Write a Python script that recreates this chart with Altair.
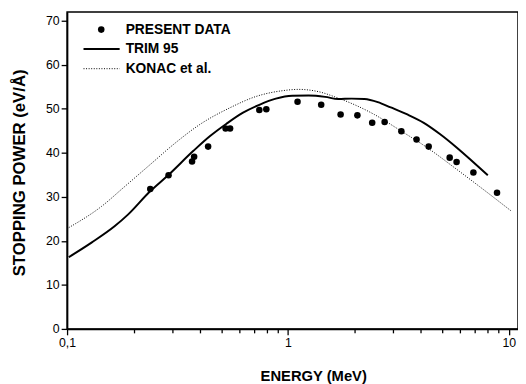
import altair as alt
import pandas as pd

# ---- data ----
present_E = [0.238, 0.288, 0.368, 0.376, 0.435, 0.522, 0.547, 0.742, 0.798, 1.105,
             1.414, 1.731, 2.062, 2.406, 2.739, 3.261, 3.821, 4.335, 5.397, 5.80,
             6.91, 8.84]
present_S = [31.8, 34.9, 38.0, 39.1, 41.4, 45.5, 45.5, 49.7, 49.9, 51.6,
             50.9, 48.7, 48.5, 46.8, 47.0, 44.9, 43.0, 41.4, 38.9, 37.9,
             35.5, 30.9]

trim_E = [0.1018, 0.129, 0.164, 0.1886, 0.237, 0.2866, 0.3743, 0.444, 0.527, 0.626,
          0.742, 0.881, 1.046, 1.241, 1.473, 1.69, 1.94, 2.22, 2.55, 2.92,
          3.47, 4.12, 4.89, 5.80, 6.89, 8.03]
trim_S = [16.3, 19.6, 23.3, 25.95, 31.2, 34.9, 40.5, 43.8, 46.6, 49.1,
          50.9, 52.3, 52.95, 53.0, 52.7, 52.2, 52.3, 52.2, 51.5, 50.3,
          48.7, 46.8, 44.2, 41.2, 37.9, 34.9]

konac_E = [0.1018, 0.143, 0.182, 0.240, 0.305, 0.401, 0.545, 0.718, 0.944, 1.12,
           1.37, 1.69, 2.005, 2.46, 3.24, 4.26, 5.61, 7.38, 10.3]
konac_S = [23.0, 27.8, 32.3, 37.5, 42.0, 46.5, 50.2, 52.8, 54.1, 54.4,
           53.9, 52.4, 50.9, 48.7, 45.0, 41.2, 36.8, 32.3, 26.7]

series_names = ["PRESENT DATA", "TRIM 95", "KONAC et al."]

x_ticks = [0.1, 0.2, 0.3, 0.4, 0.5, 0.6, 0.7, 0.8, 0.9,
           1, 2, 3, 4, 5, 6, 7, 8, 9, 10]
y_ticks = [0, 5, 10, 15, 20, 25, 30, 35, 40, 45, 50, 55, 60, 65, 70]

FONT = "Liberation Sans"

df_pts = pd.DataFrame({"E": present_E, "S": present_S})
df_trim = pd.DataFrame({"E": trim_E, "S": trim_S})
df_konac = pd.DataFrame({"E": konac_E, "S": konac_S})
one = pd.DataFrame({"k": [0]})

x_scale = alt.Scale(type="log", domain=[0.1, 11.0], nice=False)
y_scale = alt.Scale(domain=[0, 72], nice=False, zero=False)

x_axis = alt.Axis(
    values=x_ticks,
    labelExpr="datum.value == 0.1 ? '0,1' : (datum.value == 1 ? '1' : (datum.value == 10 ? '10' : ''))",
    tickSize={"condition": {"test": "datum.value == 0.1 || datum.value == 1 || datum.value == 10", "value": 6}, "value": 4},
    labelOverlap=False, labelFlush=False, grid=False,
    labelFontSize=12.5, labelPadding=2, labelColor="black", labelFont=FONT,
    domainColor="black", domainWidth=1.6, tickColor="black", tickWidth=1.3,
    title="ENERGY (MeV)", titleFont=FONT, titleFontSize=15, titleFontWeight="bold",
    titleColor="black", titleX=250, titleY=47, titleBaseline="middle",
)
y_axis = alt.Axis(
    values=y_ticks,
    labelExpr="datum.value % 10 == 0 ? datum.label : ''",
    tickSize={"condition": {"test": "datum.value % 10 == 0", "value": 6}, "value": 4},
    labelOverlap=False, labelFlush=False, grid=False,
    labelFontSize=12.5, labelPadding=2, labelColor="black", labelFont=FONT,
    domainColor="black", domainWidth=1.6, tickColor="black", tickWidth=1.3,
    title="STOPPING POWER (eV/Å)", titleFont=FONT, titleFontSize=17, titleFontWeight="bold",
    titleColor="black", titleX=-48.5, titleY=163, titleBaseline="middle", titleAngle=270,
)

konac = alt.Chart(df_konac).mark_line(
    color="black", strokeWidth=1, strokeDash=[1, 1.6], interpolate="monotone"
).encode(
    x=alt.X("E:Q", scale=x_scale, axis=x_axis),
    y=alt.Y("S:Q", scale=y_scale, axis=y_axis),
)
trim = alt.Chart(df_trim).mark_line(
    color="black", strokeWidth=2, interpolate="monotone"
).encode(x=alt.X("E:Q", scale=x_scale), y=alt.Y("S:Q", scale=y_scale))
pts = alt.Chart(df_pts).mark_circle(color="black", size=44, opacity=1).encode(
    x=alt.X("E:Q", scale=x_scale), y=alt.Y("S:Q", scale=y_scale)
)

# ---- legend (drawn in the top-left corner of the plot) ----
leg_pt = alt.Chart(one).mark_circle(color="black", size=44, opacity=1).encode(
    x=alt.value(34.7), y=alt.value(18)
)
leg_trim = alt.Chart(one).mark_rule(color="black", strokeWidth=2).encode(
    x=alt.value(16.7), x2=alt.value(53.4), y=alt.value(37.7)
)
leg_konac = alt.Chart(one).mark_rule(color="black", strokeWidth=1, strokeDash=[1, 1.6]).encode(
    x=alt.value(16.7), x2=alt.value(53.4), y=alt.value(57.7)
)
text_layers = []
for name, yy in zip(series_names, [18, 37.7, 57.7]):
    text_layers.append(
        alt.Chart(one).mark_text(
            align="left", baseline="middle", font=FONT, fontSize=14,
            fontWeight="bold", color="black"
        ).encode(x=alt.value(59.5), y=alt.value(yy), text=alt.value(name))
    )

chart = alt.layer(konac, trim, pts, leg_pt, leg_trim, leg_konac, *text_layers).properties(
    width=458, height=322,
    autosize=alt.AutoSizeParams(type="none"),
    padding={"left": 60, "top": 1, "right": 0, "bottom": 53},
    background="white",
).configure_view(stroke="black", strokeWidth=1.5)

chart.save("out.html", embed_options={"renderer": "svg", "actions": False})
